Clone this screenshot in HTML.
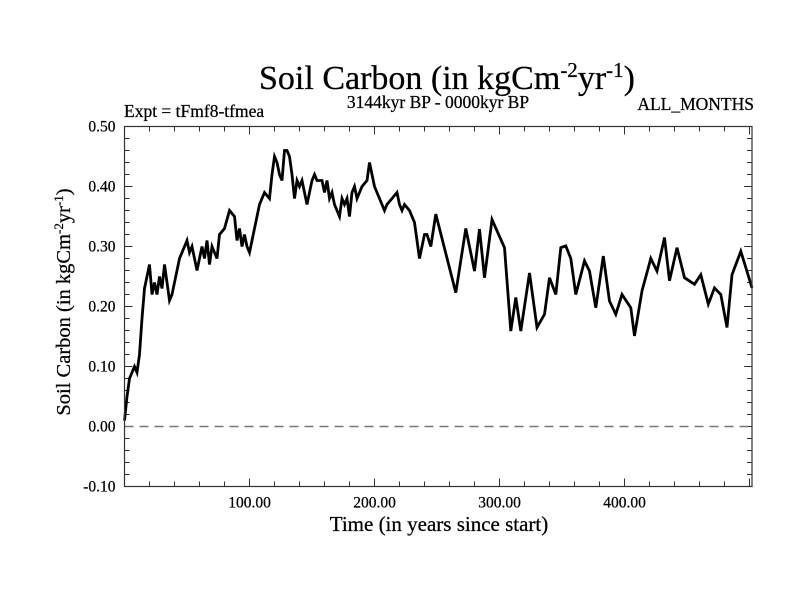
<!DOCTYPE html>
<html><head><meta charset="utf-8"><style>
body{margin:0;background:#fff;}
svg text{font-family:"Liberation Serif",serif;fill:#000;stroke:#000;stroke-width:0.25;}
</style></head><body>
<svg id="c" width="800" height="600" xmlns="http://www.w3.org/2000/svg">
<rect width="800" height="600" fill="#fff"/>
<text x="447" y="89" font-size="34" text-anchor="middle">Soil Carbon (in kgCm<tspan dy="-12" font-size="21">-2</tspan><tspan dy="12">yr</tspan><tspan dy="-12" font-size="21">-1</tspan><tspan dy="12">)</tspan></text>
<text x="124" y="117" font-size="17.5">Expt = tFmf8-tfmea</text>
<text x="438" y="108" font-size="17.5" text-anchor="middle">3144kyr BP - 0000kyr BP</text>
<text x="754" y="110" font-size="17.5" text-anchor="end">ALL_MONTHS</text>
<text transform="translate(70,302) rotate(-90)" font-size="20.5" text-anchor="middle">Soil Carbon (in kgCm<tspan dy="-7" font-size="13">-2</tspan><tspan dy="7">yr</tspan><tspan dy="-7" font-size="13">-1</tspan><tspan dy="7">)</tspan></text>
<text x="439" y="531" font-size="21" text-anchor="middle">Time (in years since start)</text>
<g id="ticks"></g>
<g id="plot"></g>
<rect x="124.5" y="126.5" width="627.5" height="360" fill="none" stroke="#333" stroke-width="1.2"/>
</svg>
<script>
const yearsA=[0,2,4,6,8,10,12,14,16,18,20,22,24,26,28,30,32,34,36,38,40,44,48,50,52,54,56,58,62,64,66,68,70,72,74,76,80,84,88,90,92,94,96,98,100,104,108,112,116,118,120,122,124,126,128,130,132,134,136,138,140,142,144,146,148,150,152,154,158,160,162,164,166,168,170,172,174,176,178,180,182,184,186,188,190,194,196,198,200,204,208,210,214,218,220,222,224,228,230,232,234,236,238,240,242,245,249,265,273,280,284,288,294,304,309,313,317,324,330,336,340,345,349,353,357,361,368,372,377,383,388,393,398,405,408,414,421,426,429,432,436,442,448,456,461,467,472,477,482,486,493,497,502];
const valuesA=[0.01,0.05,0.08,0.09,0.1,0.09,0.12,0.18,0.23,0.25,0.27,0.22,0.24,0.22,0.25,0.23,0.27,0.24,0.21,0.22,0.24,0.28,0.3,0.31,0.29,0.3,0.28,0.26,0.3,0.28,0.31,0.27,0.3,0.29,0.28,0.32,0.33,0.36,0.35,0.31,0.33,0.3,0.32,0.3,0.29,0.33,0.37,0.39,0.38,0.42,0.45,0.44,0.42,0.41,0.46,0.46,0.45,0.42,0.38,0.41,0.4,0.41,0.39,0.37,0.39,0.41,0.42,0.41,0.41,0.39,0.41,0.38,0.39,0.37,0.36,0.35,0.38,0.37,0.38,0.35,0.39,0.4,0.38,0.39,0.4,0.41,0.44,0.42,0.4,0.38,0.36,0.37,0.38,0.39,0.37,0.36,0.37,0.36,0.35,0.34,0.31,0.28,0.3,0.32,0.32,0.3,0.354,0.223,0.33,0.259,0.329,0.248,0.345,0.298,0.159,0.215,0.159,0.256,0.165,0.187,0.248,0.22,0.298,0.301,0.28,0.22,0.276,0.259,0.198,0.284,0.209,0.187,0.22,0.198,0.151,0.226,0.28,0.259,0.287,0.315,0.243,0.298,0.248,0.237,0.253,0.204,0.231,0.22,0.165,0.253,0.292,0.265,0.231];
const xTickVals=[100,200,300,400];
const xTickLabels=["100.00","200.00","300.00","400.00"];
const yTickVals=[-0.1,0,0.1,0.2,0.3,0.4,0.5];
const yTickLabels=["-0.10","0.00","0.10","0.20","0.30","0.40","0.50"];
const L=124.5,R=752,T=126.5,B=486.5,X0=0,X1=502,Y0=-0.1,Y1=0.5;
const sx=v=>L+(v-X0)/(X1-X0)*(R-L);
const sy=v=>B-(v-Y0)/(Y1-Y0)*(B-T);
const NS='http://www.w3.org/2000/svg';
const tk=document.getElementById('ticks'),pl=document.getElementById('plot');
function mk(tag,at,par){const e=document.createElementNS(NS,tag);for(const k in at)e.setAttribute(k,at[k]);par.appendChild(e);return e;}
for(let v=20;v<X1;v+=20){const major=v%100===0;const len=major?8:5;
const a=mk('line',{x1:sx(v),x2:sx(v),y1:B,y2:B-len,stroke:'#333'},tk);


const b=mk('line',{x1:sx(v),x2:sx(v),y1:T,y2:T+len,stroke:'#333'},tk);

}
xTickVals.forEach((v,i)=>{const t=mk('text',{x:sx(v),y:B+21,'font-size':15.5,'text-anchor':'middle'},tk);t.textContent=xTickLabels[i];

});
for(let i=0;i<=30;i++){const v=Y0+i*0.02;const major=i%5===0;const len=major?8:5;
const a=mk('line',{x1:L,x2:L+len,y1:sy(v),y2:sy(v),stroke:'#333'},tk);


const b=mk('line',{x1:R,x2:R-len,y1:sy(v),y2:sy(v),stroke:'#333'},tk);

}
yTickVals.forEach((v,i)=>{const t=mk('text',{x:L-9,y:sy(v)+5,'font-size':15.5,'text-anchor':'end'},tk);t.textContent=yTickLabels[i];

});
const z=mk('line',{x1:L,x2:R,y1:sy(0),y2:sy(0),stroke:'#777','stroke-width':1.5,'stroke-dasharray':'9,6'},pl);


let d='';yearsA.forEach((y,i)=>{d+=(i?'L':'M')+sx(y).toFixed(1)+','+sy(valuesA[i]).toFixed(1);});
const p=mk('path',{d:d,fill:'none',stroke:'#000','stroke-width':2.8,'stroke-linejoin':'miter'},pl);


</script>
</body></html>
